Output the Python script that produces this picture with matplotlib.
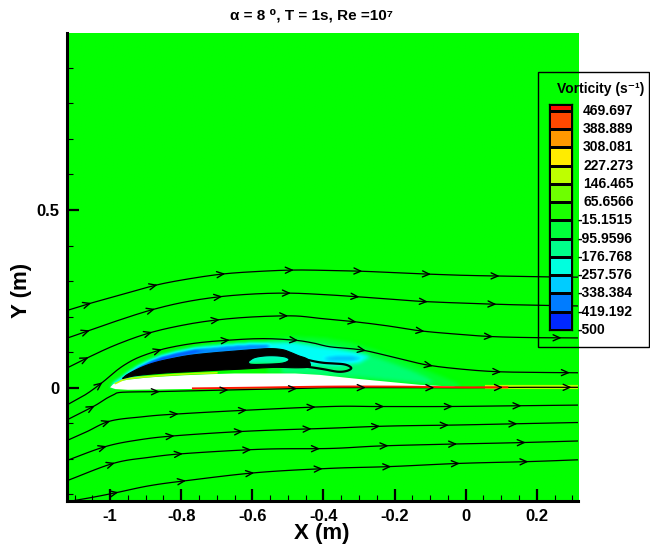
import numpy as np
import matplotlib
matplotlib.use("Agg")
import matplotlib.pyplot as plt
from matplotlib.colors import LinearSegmentedColormap, Normalize
from matplotlib.path import Path
from matplotlib.patches import PathPatch, Polygon, Rectangle
from matplotlib.ticker import FixedLocator, FixedFormatter, MultipleLocator
import matplotlib.transforms as mtrans

plt.rcParams["font.family"] = ["Liberation Sans", "DejaVu Sans"]
plt.rcParams["font.weight"] = "bold"

# ---------------- text / ticks ----------------
title_text = "α = 8 ⁰, T = 1s, Re =10⁷"
x_label = "X (m)"
y_label = "Y (m)"
legend_title = "Vorticity (s⁻¹)"

x_ticks = [-1.0, -0.8, -0.6, -0.4, -0.2, 0.0, 0.2]
x_tick_labels = ["-1", "-0.8", "-0.6", "-0.4", "-0.2", "0", "0.2"]
y_ticks = [0.0, 0.5]
y_tick_labels = ["0", "0.5"]
x_limits = (-1.122, 0.315)
y_limits = (-0.318, 0.998)

legend_values = [469.697, 388.889, 308.081, 227.273, 146.465, 65.6566,
                 -15.1515, -95.9596, -176.768, -257.576, -338.384, -419.192, -500.0]
legend_labels = ["469.697", "388.889", "308.081", "227.273", "146.465", "65.6566",
                 "-15.1515", "-95.9596", "-176.768", "-257.576", "-338.384", "-419.192", "-500"]
vort_min, vort_max = -500.0, 500.0
cmap_colors = ["#0000ff", "#00ffff", "#00ff00", "#ffff00", "#ff0000"]

# ---------------- streamlines ----------------
s1_x = [-1.122, -1.057, -0.960, -0.869, -0.780, -0.682, -0.585, -0.485, -0.390, -0.288, -0.190, -0.091, 0.0, 0.1015, 0.210, 0.315]
s1_y = [0.217, 0.237, 0.264, 0.289, 0.306, 0.320, 0.327, 0.331, 0.330, 0.3275, 0.323, 0.319, 0.316, 0.314, 0.312, 0.311]
s2_x = [-1.122, -1.061, -0.975, -0.883, -0.790, -0.691, -0.590, -0.494, -0.400, -0.306, -0.210, -0.109, 0.078, 0.200, 0.315]
s2_y = [0.139, 0.160, 0.190, 0.219, 0.241, 0.256, 0.264, 0.266, 0.262, 0.256, 0.249, 0.242, 0.235, 0.232, 0.230]
s3_x = [-1.122, -1.066, -0.985, -0.893, -0.800, -0.705, -0.600, -0.485, -0.410, -0.316, -0.220, -0.128, -0.030, 0.069, 0.180, 0.315]
s3_y = [0.055, 0.083, 0.120, 0.153, 0.175, 0.190, 0.199, 0.202, 0.195, 0.186, 0.174, 0.160, 0.151, 0.144, 0.141, 0.140]
s4_x = [-1.122, -1.070, -1.024, -0.986, -0.958, -0.925, -0.885, -0.841, -0.770, -0.691, -0.578, -0.485, -0.430, -0.381, -0.292, -0.200, -0.109, -0.010, 0.087, 0.200, 0.315]
s4_y = [-0.049, -0.020, 0.013, 0.045, 0.065, 0.083, 0.098, 0.111, 0.124, 0.132, 0.138, 0.134, 0.126, 0.115, 0.106, 0.085, 0.064, 0.052, 0.045, 0.043, 0.042]
s5_x = [-1.122, -1.047, -1.010, -0.990, -0.977, -0.940, -0.860, -0.672, -0.500, -0.381, -0.200, -0.091, 0.0, 0.150, 0.315]
s5_y = [-0.091, -0.053, -0.030, -0.020, -0.014, -0.012, -0.011, -0.0065, -0.003, 0.0, 0.0, 0.0, 0.0, 0.001, 0.001]
s6_x = [-1.122, -1.066, -1.000, -0.910, -0.827, -0.630, -0.381, -0.246, -0.058, 0.134, 0.315]
s6_y = [-0.149, -0.124, -0.094, -0.082, -0.075, -0.064, -0.053, -0.053, -0.053, -0.051, -0.049]
s7_x = [-1.122, -1.014, -0.920, -0.813, -0.606, -0.381, -0.217, -0.025, 0.167, 0.315]
s7_y = [-0.205, -0.166, -0.147, -0.135, -0.122, -0.114, -0.108, -0.105, -0.101, -0.098]
s8_x = [-1.122, -0.991, -0.890, -0.785, -0.569, -0.381, -0.241, -0.053, 0.134, 0.315]
s8_y = [-0.262, -0.213, -0.196, -0.185, -0.173, -0.171, -0.164, -0.159, -0.155, -0.150]
s9_x = [-1.104, -1.047, -0.981, -0.890, -0.789, -0.588, -0.381, -0.213, -0.016, 0.176, 0.315]
s9_y = [-0.318, -0.308, -0.295, -0.276, -0.262, -0.239, -0.227, -0.222, -0.213, -0.208, -0.203]
arrow_first = [0.068, 0.064, 0.064, 0.115, 0.084, 0.13, 0.115, 0.14, 0.125]
arrow_step = 0.193

# ---------------- airfoil and surface lines ----------------
airfoil_x = [-1.0, -0.991, -0.975, -0.953, -0.90, -0.86, -0.79, -0.719, -0.65, -0.578, -0.48, -0.41, -0.316, -0.222, -0.128, -0.035, -0.016,
             -0.2, -0.381, -0.5, -0.672, -0.86, -0.95, -0.985]
airfoil_y = [0.001, 0.010, 0.017, 0.022, 0.028, 0.031, 0.035, 0.038, 0.040, 0.040, 0.040, 0.036, 0.026, 0.017, 0.008, 0.003, 0.0,
             0.002, 0.003, 0.001, -0.002, -0.005, -0.006, -0.004]
red_line_x = [-0.767, -0.60, -0.381, -0.20, -0.016, 0.05, 0.117]
red_line_y = [-0.002, 0.0, 0.003, 0.003, 0.001, 0.001, 0.001]
red_line_value = 480.0
wake_x = [0.06, 0.117, 0.2, 0.315]
wake_y = [0.001, 0.001, 0.001, 0.001]
wake_value = 230.0
wall_x = [-0.985, -0.95, -0.86, -0.78, -0.70]
wall_y = [0.012, 0.025, 0.034, 0.039, 0.042]
wall_value = 180.0

# ---------------- vorticity regions ----------------
faint_x = [-0.56, -0.48, -0.40, -0.33, -0.26, -0.19, -0.12, -0.06, -0.02, -0.02, -0.30, -0.56]
faint_y = [0.138, 0.144, 0.140, 0.128, 0.108, 0.082, 0.052, 0.028, 0.010, 0.0, 0.02, 0.04]
faint_value = -45.0
haze_x = [-0.52, -0.44, -0.38, -0.32, -0.26, -0.20, -0.15, -0.11, -0.09, -0.12, -0.30, -0.52]
haze_y = [0.130, 0.126, 0.118, 0.106, 0.088, 0.066, 0.046, 0.028, 0.014, 0.012, 0.03, 0.04]
haze_value = -110.0
cyan_x = [-1.0, -0.972, -0.925, -0.860, -0.766, -0.672, -0.578, -0.485, -0.428, -0.365, -0.306, -0.27, -0.30, -0.36, -0.44, -0.55, -0.70, -0.87, -0.96]
cyan_y = [0.0, 0.026, 0.059, 0.089, 0.111, 0.122, 0.127, 0.128, 0.117, 0.110, 0.100, 0.088, 0.070, 0.062, 0.065, 0.070, 0.065, 0.050, 0.020]
cyan_value = -240.0
blue_x = [-1.000, -0.990, -0.972, -0.950, -0.925, -0.895, -0.860, -0.815, -0.766, -0.720, -0.672, -0.625, -0.578, -0.550, -0.560, -0.662, -0.775, -0.869, -0.944, -0.985]
blue_y = [0.000, 0.014, 0.026, 0.043, 0.059, 0.075, 0.089, 0.101, 0.111, 0.117, 0.122, 0.125, 0.127, 0.127, 0.108, 0.098, 0.086, 0.068, 0.033, 0.006]
blue_value = -360.0
dark_x = [-1.000, -0.990, -0.972, -0.950, -0.925, -0.895, -0.860, -0.815, -0.766, -0.720, -0.766, -0.815, -0.860, -0.895, -0.925, -0.950, -0.975, -0.995]
dark_y = [0.000, 0.014, 0.026, 0.043, 0.059, 0.075, 0.089, 0.101, 0.111, 0.117, 0.102, 0.092, 0.078, 0.064, 0.048, 0.032, 0.014, 0.001]
dark_value = -480.0
streak_x = [-0.40, -0.36, -0.32, -0.29, -0.32, -0.36, -0.40]
streak_y = [0.084, 0.089, 0.088, 0.082, 0.076, 0.076, 0.078]
streak_value = -330.0
hole_x = [-0.612, -0.592, -0.552, -0.510, -0.497, -0.516, -0.564, -0.604]
hole_y = [0.073, 0.085, 0.090, 0.087, 0.078, 0.069, 0.066, 0.066]
hole_value = -170.0

# separation bubble (dense streamlines)
blob_x = [-0.965, -0.950, -0.910, -0.869, -0.820, -0.775, -0.720, -0.662, -0.600, -0.550, -0.515, -0.494, -0.470, -0.445,
          -0.438, -0.470, -0.541, -0.635, -0.700, -0.775, -0.850, -0.925, -0.960]
blob_y = [0.026, 0.038, 0.058, 0.072, 0.083, 0.091, 0.097, 0.102, 0.107, 0.110, 0.107, 0.100, 0.090, 0.080,
          0.060, 0.056, 0.057, 0.052, 0.049, 0.045, 0.041, 0.034, 0.027]
tail_x = [-0.470, -0.430, -0.400, -0.370, -0.344, -0.328, -0.322, -0.335, -0.360, -0.400, -0.440, -0.470]
tail_y = [0.085, 0.075, 0.070, 0.068, 0.066, 0.061, 0.054, 0.047, 0.045, 0.052, 0.058, 0.060]

# ---------------- helpers ----------------
def smooth(x, y, n=12):
    P = np.column_stack([x, y]).astype(float)
    P = np.vstack([2 * P[0] - P[1], P, 2 * P[-1] - P[-2]])
    out = []
    t = np.linspace(0, 1, n, endpoint=False)[:, None]
    for i in range(1, len(P) - 2):
        p0, p1, p2, p3 = P[i - 1], P[i], P[i + 1], P[i + 2]
        out.append(0.5 * ((2 * p1) + (-p0 + p2) * t + (2 * p0 - 5 * p1 + 4 * p2 - p3) * t ** 2
                          + (-p0 + 3 * p1 - 3 * p2 + p3) * t ** 3))
    out.append(P[-2][None, :])
    return np.vstack(out)


def draw_arrows(ax, c, start, step, L=0.021, ang=np.deg2rad(24)):
    d = np.hypot(np.diff(c[:, 0]), np.diff(c[:, 1]))
    s = np.concatenate([[0], np.cumsum(d)])
    for si in np.arange(start, s[-1] - 0.01, step):
        px, py = np.interp(si, s, c[:, 0]), np.interp(si, s, c[:, 1])
        qx, qy = np.interp(si - 0.01, s, c[:, 0]), np.interp(si - 0.01, s, c[:, 1])
        dx, dy = px - qx, py - qy
        nrm = np.hypot(dx, dy)
        bx, by = -dx / nrm, -dy / nrm
        for sg in (1, -1):
            ca, sa = np.cos(sg * ang), np.sin(sg * ang)
            rx, ry = bx * ca - by * sa, bx * sa + by * ca
            ax.plot([px, px + L * rx], [py, py + L * ry], color="black", lw=1.0,
                    solid_capstyle="round", zorder=6)


def box_blur(a, r):
    k = np.ones(2 * r + 1) / (2 * r + 1)
    a = np.apply_along_axis(lambda v: np.convolve(v, k, mode="same"), 0, a)
    a = np.apply_along_axis(lambda v: np.convolve(v, k, mode="same"), 1, a)
    return a

# ---------------- figure ----------------
W, H = 650, 550
fig = plt.figure(figsize=(W / 100, H / 100), dpi=100)
ax = fig.add_axes([66.7 / W, 49.3 / H, 511 / W, 467.7 / H])
ax.set_xlim(*x_limits)
ax.set_ylim(*y_limits)

cmap = LinearSegmentedColormap.from_list("large_rainbow", cmap_colors)
norm = Normalize(vort_min, vort_max)

# vorticity field
nx, ny = 720, 660
gx = np.linspace(x_limits[0], x_limits[1], nx)
gy = np.linspace(y_limits[0], y_limits[1], ny)
GX, GY = np.meshgrid(gx, gy)
pts = np.column_stack([GX.ravel(), GY.ravel()])
field = np.zeros(GX.shape)
regions = [(faint_x, faint_y, faint_value), (haze_x, haze_y, haze_value),
           (cyan_x, cyan_y, cyan_value), (blue_x, blue_y, blue_value),
           (streak_x, streak_y, streak_value), (dark_x, dark_y, dark_value),
           (hole_x, hole_y, hole_value)]
for rx, ry, val in regions:
    m = Path(np.column_stack([rx, ry])).contains_points(pts).reshape(GX.shape)
    field[m] = val
field = box_blur(box_blur(field, 3), 2)
ax.imshow(field, extent=[x_limits[0], x_limits[1], y_limits[0], y_limits[1]], origin="lower",
          cmap=cmap, norm=norm, interpolation="bilinear", aspect="auto", zorder=0)

# airfoil (white, no data)
ax.add_patch(Polygon(np.column_stack([airfoil_x, airfoil_y]), closed=True,
                     facecolor="white", edgecolor="none", zorder=2))
# near-wall vorticity lines
ax.plot(wake_x, wake_y, color=cmap(norm(wake_value)), lw=3.0, alpha=0.8, zorder=3)
wl = smooth(wall_x, wall_y)
ax.plot(wl[:, 0], wl[:, 1], color=cmap(norm(wall_value)), lw=1.2, zorder=3)

# streamlines
streams = [(s1_x, s1_y), (s2_x, s2_y), (s3_x, s3_y), (s4_x, s4_y), (s5_x, s5_y),
           (s6_x, s6_y), (s7_x, s7_y), (s8_x, s8_y), (s9_x, s9_y)]
for (sx, sy), a0 in zip(streams, arrow_first):
    c = smooth(sx, sy)
    ax.plot(c[:, 0], c[:, 1], color="black", lw=0.9, zorder=5)
    draw_arrows(ax, c, a0, arrow_step)

rl = smooth(red_line_x, red_line_y)
ax.plot(rl[:, 0], rl[:, 1], color=cmap(norm(red_line_value)), lw=1.4, zorder=5.5)

# separation bubble
outer = smooth(blob_x + [blob_x[0]], blob_y + [blob_y[0]], n=6)
hole = smooth(hole_x + [hole_x[0]], hole_y + [hole_y[0]], n=6)[::-1]
verts = np.vstack([outer, hole])
codes = np.concatenate([[Path.MOVETO], np.full(len(outer) - 1, Path.LINETO),
                        [Path.MOVETO], np.full(len(hole) - 1, Path.LINETO)])
ax.add_patch(PathPatch(Path(verts, codes), facecolor="black", edgecolor="black", lw=0.8, zorder=4))
tl = smooth(tail_x, tail_y, n=8)
ax.plot(tl[:, 0], tl[:, 1], color="black", lw=1.6, zorder=4)

# axes styling
for sp in ["top", "right"]:
    ax.spines[sp].set_visible(False)
for sp in ["left", "bottom"]:
    ax.spines[sp].set_linewidth(2.2)
    ax.spines[sp].set_zorder(10)
ax.xaxis.set_major_locator(FixedLocator(x_ticks))
ax.xaxis.set_major_formatter(FixedFormatter(x_tick_labels))
ax.yaxis.set_major_locator(FixedLocator(y_ticks))
ax.yaxis.set_major_formatter(FixedFormatter(y_tick_labels))
ax.xaxis.set_minor_locator(MultipleLocator(0.05))
ax.yaxis.set_minor_locator(MultipleLocator(0.1))
ax.tick_params(which="major", direction="in", length=8.5, width=1.6, labelsize=12,
               top=False, right=False, zorder=11)
ax.tick_params(which="minor", direction="in", length=4.3, width=0.8, top=False, right=False)
ax.tick_params(axis="x", which="major", pad=6)
ax.tick_params(axis="y", which="major", pad=5)
for lab in ax.get_xticklabels() + ax.get_yticklabels():
    lab.set_fontweight("bold")

fig.text(322 / W, 1 - 533 / H, x_label, ha="center", va="center", fontsize=16, fontweight="bold")
fig.text(22 / W, 1 - 290 / H, y_label, ha="center", va="center", rotation=90, fontsize=16, fontweight="bold")
fig.text(311 / W, 1 - 15 / H, title_text, ha="center", va="center", fontsize=11, fontweight="bold")

# legend box
fig.add_artist(Rectangle((538 / W, 1 - 347 / H), (649 - 538) / W, (347 - 72) / H,
                         transform=fig.transFigure, fill=False, edgecolor="black", lw=1.0, zorder=20))
fig.text(601 / W, 1 - 89 / H, legend_title, ha="center", va="center", fontsize=10, fontweight="bold")
cax = fig.add_axes([549 / W, 1 - 330 / H, 23 / W, (330 - 104) / H])
bounds = np.array(sorted(legend_values) + [vort_max])
mids = 0.5 * (bounds[:-1] + bounds[1:])
cax.pcolormesh([0, 1], bounds, mids[:, None], cmap=cmap, norm=norm,
               edgecolors="black", linewidth=0.8)
cax.set_xlim(0, 1)
cax.set_ylim(vort_min, vort_max)
cax.set_xticks([])
cax.set_yticks([])
for sp in cax.spines.values():
    sp.set_linewidth(0.9)
tr = mtrans.blended_transform_factory(fig.transFigure, cax.transData)
for v, lab in zip(legend_values, legend_labels):
    xpos = 578 / W if lab.startswith("-") else 583 / W
    cax.text(xpos, v, lab, transform=tr, ha="left", va="center", fontsize=10,
             fontweight="bold", clip_on=False)

fig.savefig("out.png", dpi=100)
